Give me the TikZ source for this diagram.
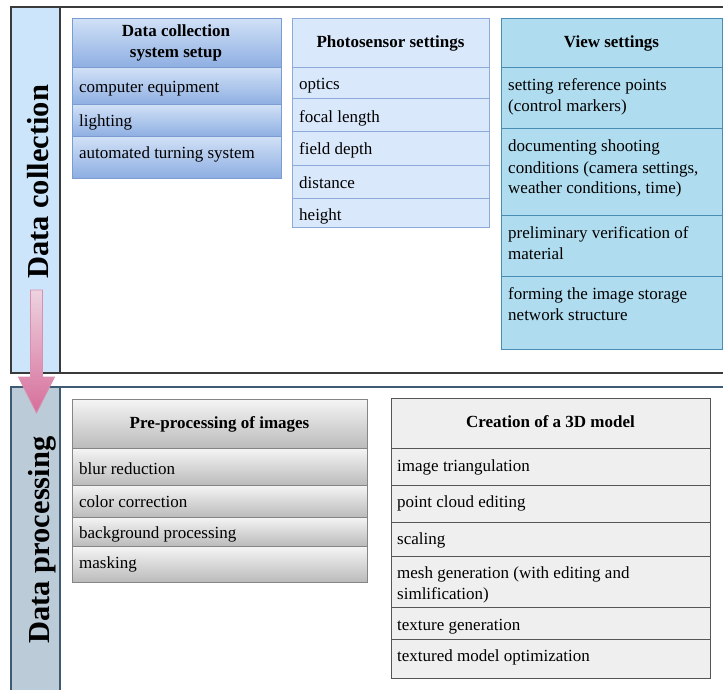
\documentclass[tikz,border=0pt]{standalone}
\usepackage{fontspec}
\setmainfont{Liberation Serif}
\definecolor{bAtop}{HTML}{D0E0F6}
\definecolor{bAbot}{HTML}{8DAEE2}
\definecolor{bAline}{HTML}{7B9BD1}
\definecolor{bBfill}{HTML}{DAE8FB}
\definecolor{bBline}{HTML}{8EAADB}
\definecolor{bCfill}{HTML}{B0DCEF}
\definecolor{bCline}{HTML}{4A8DB4}
\definecolor{gDtop}{HTML}{F5F5F5}
\definecolor{gDbot}{HTML}{BBBBBB}
\definecolor{gDline}{HTML}{858585}
\definecolor{bEfill}{HTML}{EFEFEF}
\definecolor{bEline}{HTML}{555555}
\definecolor{colA}{HTML}{CDE5FB}
\definecolor{colB}{HTML}{BCCBD8}
\definecolor{colBline}{HTML}{3F5B73}
\definecolor{frameline}{HTML}{3A3A3A}
\definecolor{arrtop}{HTML}{EDD3DF}
\definecolor{arrbot}{HTML}{D66E9A}
\definecolor{arrline}{HTML}{D890B0}
\newcommand\mkcell[6]{\node[cell,#6,minimum width=#4pt,minimum height=#5pt] (#1) at (#2,#3) {};}
\begin{document}
\begin{tikzpicture}[x=1pt,y=-1pt,
  cell/.style={rectangle,inner sep=0pt,outer sep=0pt,anchor=north west,line width=1pt},
  boxA/.style={draw=bAline,top color=bAtop,bottom color=bAbot},
  boxB/.style={draw=bBline,fill=bBfill},
  boxC/.style={draw=bCline,fill=bCfill},
  boxD/.style={draw=gDline,top color=gDtop,bottom color=gDbot},
  boxE/.style={draw=bEline,fill=bEfill},
  txt/.style={font=\fontsize{17}{21}\selectfont,inner sep=0pt,anchor=base west},
  hdr/.style={font=\bfseries\fontsize{17}{21}\selectfont,inner sep=0pt,anchor=base},
  vlab/.style={font=\bfseries\fontsize{30.5}{34}\selectfont,inner sep=0pt,anchor=base,rotate=90},
  framestyle/.style={line width=1.2pt}]
\useasboundingbox (0,0) rectangle (723,690);
\fill[white] (0,0) rectangle (723,690);
% section columns
\node[cell,draw=frameline,fill=colA,line width=1.2pt,minimum width=49pt,minimum height=366pt] (colup) at (11,7) {};
\node[cell,draw=colBline,fill=colB,line width=1.2pt,minimum width=49pt,minimum height=310pt] (collow) at (11,387) {};
\coordinate (tr) at (723,7);
\coordinate (br) at (723,373);
\coordinate (lr) at (723,387);
\draw[framestyle,draw=frameline] (colup.north west) -- (tr);
\draw[framestyle,draw=frameline] (colup.south west) -- (br);
\draw[framestyle,draw=colBline] (collow.north west) -- (lr);
\node[vlab] (labup) at (48,182) {Data collection};
\node[vlab] (lablow) at (49,540) {Data processing};
% box A
\mkcell{a0}{72}{19}{209}{49}{boxA}
\mkcell{a1}{72}{68}{209}{37}{boxA}
\mkcell{a2}{72}{105}{209}{32}{boxA}
\mkcell{a3}{72}{137}{209}{41}{boxA}
\node[hdr] (ta0) at (176,37) {\parbox[t]{200pt}{\centering Data collection\\system setup}};
\node[txt] (ta1) at (79,93) {computer equipment};
\node[txt] (ta2) at (79,127) {lighting};
\node[txt] (ta3) at (79,158) {automated turning system};
% box B
\mkcell{b0}{292}{19}{197}{49}{boxB}
\mkcell{b1}{292}{68}{197}{31}{boxB}
\mkcell{b2}{292}{99}{197}{33}{boxB}
\mkcell{b3}{292}{132}{197}{34}{boxB}
\mkcell{b4}{292}{166}{197}{32}{boxB}
\mkcell{b5}{292}{198}{197}{29}{boxB}
\node[hdr] (tb0) at (390.5,48) {Photosensor settings};
\node[txt] (tb1) at (299,90) {optics};
\node[txt] (tb2) at (299,123) {focal length};
\node[txt] (tb3) at (299,154) {field depth};
\node[txt] (tb4) at (299,188) {distance};
\node[txt] (tb5) at (299,220) {height};
% box C
\mkcell{c0}{501}{19}{221}{49}{boxC}
\mkcell{c1}{501}{68}{221}{61}{boxC}
\mkcell{c2}{501}{129}{221}{86}{boxC}
\mkcell{c3}{501}{215}{221}{61}{boxC}
\mkcell{c4}{501}{276}{221}{73}{boxC}
\node[hdr] (tc0) at (611.5,48) {View settings};
\node[txt] (tc1) at (508,91) {\parbox[t]{212pt}{\raggedright setting reference points\\(control markers)}};
\node[txt] (tc2) at (508,152) {\parbox[t]{212pt}{\raggedright documenting shooting\\conditions (camera settings,\\weather conditions, time)}};
\node[txt] (tc3) at (508,238) {\parbox[t]{212pt}{\raggedright preliminary verification of\\material}};
\node[txt] (tc4) at (508,299) {\parbox[t]{212pt}{\raggedright forming the image storage\\network structure}};
% box D
\mkcell{d0}{72}{399}{295}{49}{boxD}
\mkcell{d1}{72}{448}{295}{37}{boxD}
\mkcell{d2}{72}{485}{295}{32}{boxD}
\mkcell{d3}{72}{517}{295}{29}{boxD}
\mkcell{d4}{72}{546}{295}{36}{boxD}
\node[hdr] (td0) at (219.5,428) {Pre-processing of images};
\node[txt] (td1) at (79,474) {blur reduction};
\node[txt] (td2) at (79,507) {color correction};
\node[txt] (td3) at (79,538) {background processing};
\node[txt] (td4) at (79,568) {masking};
% box E
\mkcell{e0}{391}{398}{319}{50}{boxE}
\mkcell{e1}{391}{448}{319}{37}{boxE}
\mkcell{e2}{391}{485}{319}{37}{boxE}
\mkcell{e3}{391}{522}{319}{34}{boxE}
\mkcell{e4}{391}{556}{319}{51}{boxE}
\mkcell{e5}{391}{607}{319}{32}{boxE}
\mkcell{e6}{391}{639}{319}{39}{boxE}
\node[hdr] (te0) at (550.5,427) {Creation of a 3D model};
\node[txt] (te1) at (397,471) {image triangulation};
\node[txt] (te2) at (397,507) {point cloud editing};
\node[txt] (te3) at (397,544) {scaling};
\node[txt] (te4) at (397,578) {\parbox[t]{310pt}{\raggedright mesh generation (with editing and\\simlification)}};
\node[txt] (te5) at (397,630) {texture generation};
\node[txt] (te6) at (397,661) {textured model optimization};
% arrow
\shade[top color=arrtop,bottom color=arrbot,draw=arrline,line width=0.8pt]
  (30.5,290) -- (42.5,290) -- (42.5,377) -- (54.5,377) -- (36.5,413) -- (18.5,377) -- (30.5,377) -- cycle;
\end{tikzpicture}
\end{document}
